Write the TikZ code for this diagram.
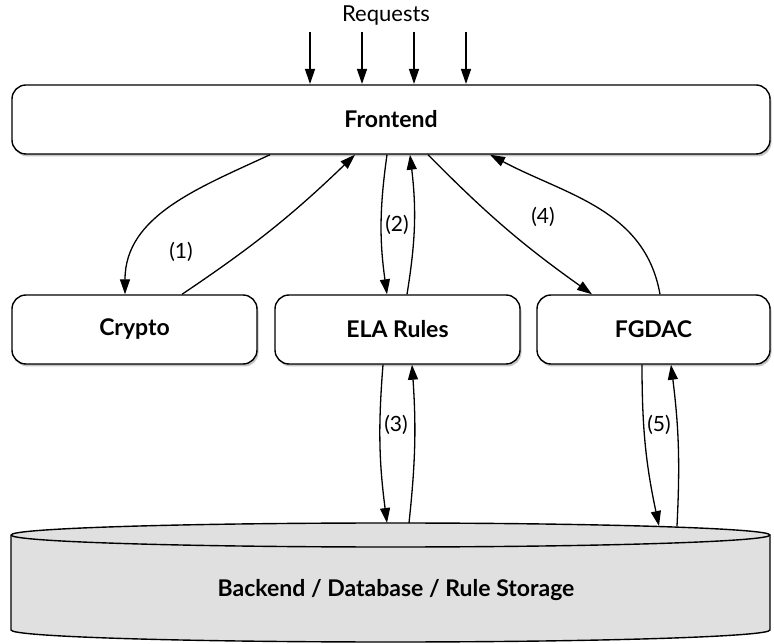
\documentclass[tikz,border=0pt]{standalone}
\usepackage{fontspec}
\setmainfont{Lato}
\usetikzlibrary{arrows.meta,shadows}
\definecolor{dbgray}{HTML}{E0E0E0}

\begin{document}
\begin{tikzpicture}[
  x=1pt, y=1pt,
  line width=1.4pt,
  box/.style={
    draw=black,
    fill=white,
    rounded corners=14pt,
    minimum height=69pt,
    font=\fontsize{23}{26}\selectfont\bfseries,
    drop shadow={shadow xshift=1.5pt,shadow yshift=-2.5pt,opacity=0.45}
  },
  arr/.style={-{Triangle[length=15pt,width=10pt]}, line width=1.3pt},
  num/.style={font=\fontsize{21}{24}\selectfont}
]
  \useasboundingbox (0,0) rectangle (774,643);

  % requests coming in
  \node[font=\fontsize{22}{25}\selectfont] (req) at (386,627) {Requests};
  \foreach \x in {310,362,414,466}
    \draw[arr] (\x,611) -- (\x,559);

  % boxes
  \node[box, minimum width=758pt] (fe) at (391,523.5) {Frontend};
  \node[box, minimum width=245pt] (crypto) at (134.5,313.5) {Crypto};
  \node[box, minimum width=245pt] (ela) at (397.5,313.5) {ELA Rules};
  \node[box, minimum width=233pt] (fgdac) at (653.5,313.5) {FGDAC};

  % storage cylinder
  \draw[fill=dbgray] (11,108) -- (11,13)
    arc[start angle=180, end angle=360, x radius=379.5, y radius=12]
    -- (770,108)
    arc[start angle=0, end angle=180, x radius=379.5, y radius=12];
  \draw (11,108) arc[start angle=180, end angle=360, x radius=379.5, y radius=12];
  \node[font=\fontsize{23}{26}\selectfont\bfseries] (db) at (396,53) {Backend / Database / Rule Storage};
  \coordinate (dbtop) at (390,120);

  % (1)
  \draw[arr] ([xshift=-121pt]fe.south) to[out=205,in=90] ([xshift=-9.5pt]crypto.north);
  \draw[arr] ([xshift=47.5pt]crypto.north) to[bend right=5] ([xshift=-36pt]fe.south);
  \node[num] (n1) at (181,391) {(1)};

  % (2)
  \draw[arr] ([xshift=-4pt]fe.south) to[bend right=8] ([xshift=-10.5pt]ela.north);
  \draw[arr] ([xshift=9.5pt]ela.north) to[bend right=8] ([xshift=19pt]fe.south);
  \node[num] (n2) at (397,418) {(2)};

  % (4)
  \draw[arr] ([xshift=37pt]fe.south) to[bend right=5] ([xshift=-61.5pt]fgdac.north);
  \draw[arr] ([xshift=6.5pt]fgdac.north) to[out=100,in=-28] ([xshift=99pt]fe.south);
  \node[num] (n4) at (543,426) {(4)};

  % (3)
  \draw[arr] ([xshift=-14.5pt]ela.south) to[bend right=6] ([xshift=-3pt]dbtop);
  \draw[arr] ([xshift=19pt]dbtop) to[bend right=5] ([xshift=14.5pt]ela.south);
  \node[num] (n3) at (396,218) {(3)};

  % (5)
  \draw[arr] ([xshift=-11.5pt]fgdac.south) to[bend right=6] ([xshift=269pt,yshift=-3pt]dbtop);
  \draw[arr] ([xshift=287pt,yshift=-3pt]dbtop) to[bend right=5] ([xshift=17.5pt]fgdac.south);
  \node[num] (n5) at (659,218) {(5)};
\end{tikzpicture}
\end{document}
